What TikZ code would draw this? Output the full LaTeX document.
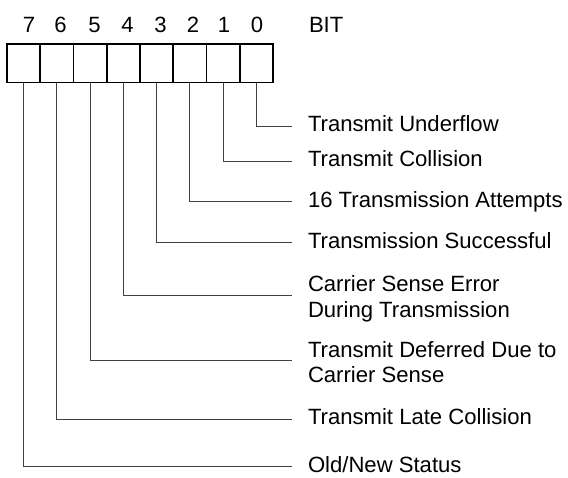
\documentclass[tikz,border=0pt]{standalone}
\usepackage{fontspec}
\setmainfont{Liberation Sans}
\begin{document}
\begin{tikzpicture}[x=1pt,y=-1pt,
  cell/.style={draw=black,line width=1.6pt,minimum width=33.25pt,minimum height=38.5pt,inner sep=0pt,outer sep=0pt},
  txt/.style={inner sep=0pt,outer sep=0pt,font=\fontsize{22.1}{25.5}\selectfont},
  lbl/.style={txt,anchor=base west},
  conn/.style={draw=black!75,line width=1pt}]
\useasboundingbox (0,0) rectangle (568,477);
% register cells
\foreach \i in {0,...,7}{
  \node[cell] (c\i) at ({7+33.25*(7-\i)+16.625},63.25) {};
}
% bit numbers
\node[txt,anchor=base] (d7) at (29,32) {7};
\node[txt,anchor=base] (d6) at (60.5,32) {6};
\node[txt,anchor=base] (d5) at (94.5,32) {5};
\node[txt,anchor=base] (d4) at (127.5,32) {4};
\node[txt,anchor=base] (d3) at (160.5,32) {3};
\node[txt,anchor=base] (d2) at (193,32) {2};
\node[txt,anchor=base] (d1) at (224,32) {1};
\node[txt,anchor=base] (d0) at (257,32) {0};
\node[lbl] (bit) at (309,32) {BIT};
% line ends
\coordinate (e0) at (291.5,126);
\coordinate (e1) at (291.5,161.3);
\coordinate (e2) at (291.5,201.7);
\coordinate (e3) at (291.5,242.7);
\coordinate (e4) at (291.5,295.7);
\coordinate (e5) at (291.5,360.5);
\coordinate (e6) at (291.5,419.3);
\coordinate (e7) at (291.5,466.7);
% labels
\node[lbl] (l0) at (308,131.5) {Transmit Underflow};
\node[lbl] (l1) at (308,166.8) {Transmit Collision};
\node[lbl] (l2) at (308,207.2) {16 Transmission Attempts};
\node[lbl] (l3) at (308,248.2) {Transmission Successful};
\node[lbl] (l4) at (308,291.5) {\begin{tabular}[t]{@{}l@{}}Carrier Sense Error\\During Transmission\end{tabular}};
\node[lbl] (l5) at (308,357) {\begin{tabular}[t]{@{}l@{}}Transmit Deferred Due to\\Carrier Sense\end{tabular}};
\node[lbl] (l6) at (308,424.8) {Transmit Late Collision};
\node[lbl] (l7) at (308,472.2) {Old/New Status};
% connectors
\foreach \i in {0,...,7}{
  \draw[conn] (c\i.south) |- (e\i);
}
\end{tikzpicture}
\end{document}
